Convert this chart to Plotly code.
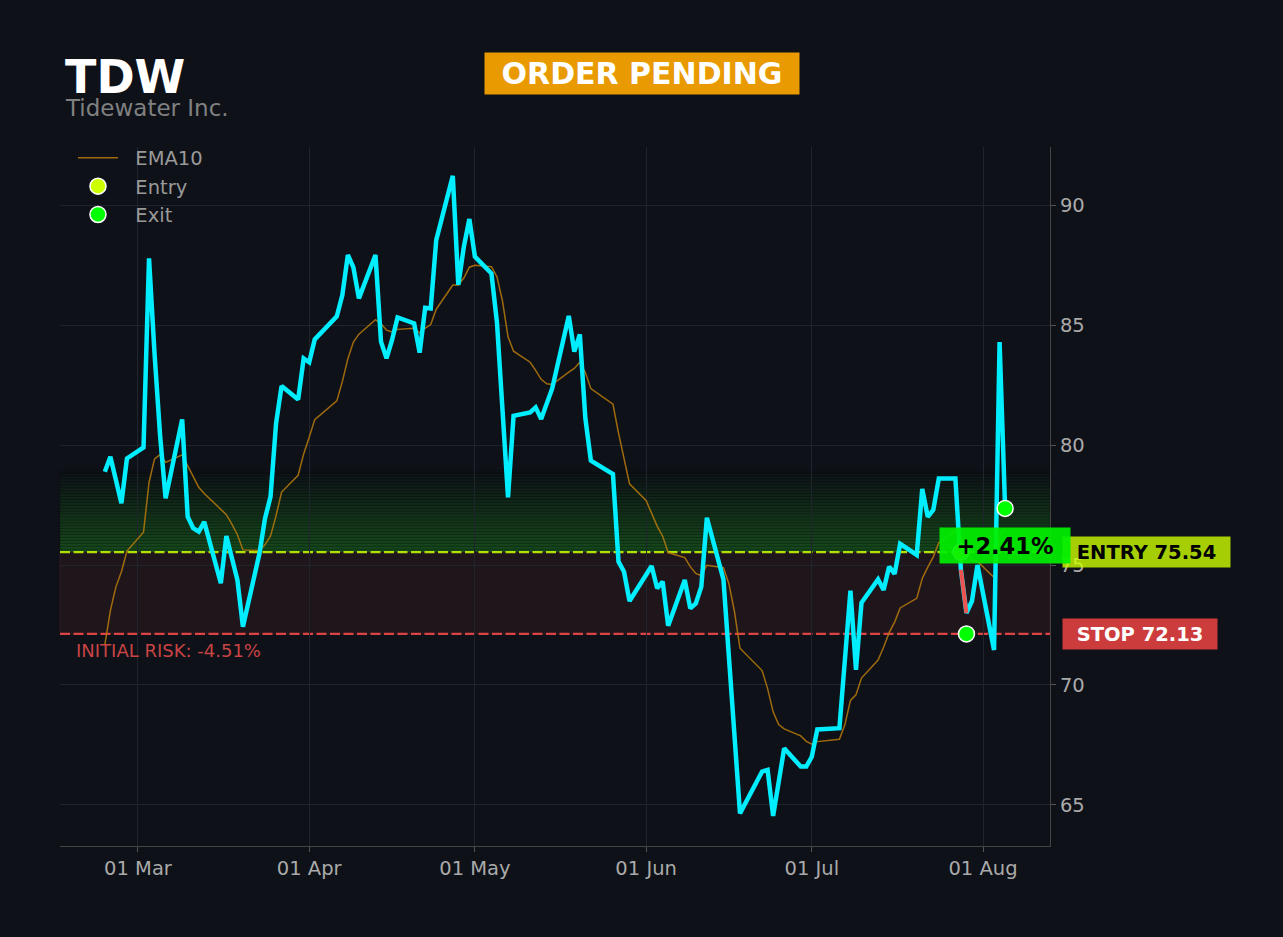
import pandas as pd
import plotly.graph_objects as go

ticker = "TDW"
company = "Tidewater Inc."
status = "ORDER PENDING"

entry_price = 75.54
stop_price = 72.13
gain_text = "+2.41%"
risk_text = "INITIAL RISK: -4.51%"

# closing prices (turning points only)
price_dates = [
    "2026-02-23", "2026-02-24", "2026-02-26", "2026-02-27",
    "2026-03-02", "2026-03-03", "2026-03-04", "2026-03-05", "2026-03-06",
    "2026-03-09", "2026-03-10", "2026-03-11", "2026-03-12", "2026-03-13",
    "2026-03-16", "2026-03-17", "2026-03-19", "2026-03-20",
    "2026-03-23", "2026-03-24", "2026-03-25", "2026-03-26", "2026-03-27",
    "2026-03-30", "2026-03-31", "2026-04-01", "2026-04-02",
    "2026-04-06", "2026-04-07", "2026-04-08", "2026-04-09", "2026-04-10",
    "2026-04-13", "2026-04-14", "2026-04-15", "2026-04-16", "2026-04-17",
    "2026-04-20", "2026-04-21", "2026-04-22", "2026-04-23", "2026-04-24",
    "2026-04-27", "2026-04-28", "2026-04-29", "2026-04-30", "2026-05-01",
    "2026-05-04", "2026-05-05", "2026-05-07", "2026-05-08",
    "2026-05-11", "2026-05-12", "2026-05-13", "2026-05-15",
    "2026-05-18", "2026-05-19", "2026-05-20", "2026-05-21", "2026-05-22",
    "2026-05-26", "2026-05-27", "2026-05-28", "2026-05-29",
    "2026-06-02", "2026-06-03", "2026-06-04", "2026-06-05",
    "2026-06-08", "2026-06-09", "2026-06-10", "2026-06-11", "2026-06-12",
    "2026-06-15", "2026-06-18",
    "2026-06-22", "2026-06-23", "2026-06-24", "2026-06-26",
    "2026-06-29", "2026-06-30", "2026-07-01", "2026-07-02",
    "2026-07-06", "2026-07-08", "2026-07-09", "2026-07-10",
    "2026-07-13", "2026-07-14", "2026-07-15", "2026-07-16", "2026-07-17",
    "2026-07-20", "2026-07-21", "2026-07-22", "2026-07-23", "2026-07-24",
    "2026-07-27", "2026-07-28", "2026-07-29", "2026-07-30", "2026-07-31",
    "2026-08-03", "2026-08-04", "2026-08-05",
]
price_close = [
    78.89, 79.51, 77.57, 79.44,
    79.90, 87.78, 83.80, 80.40, 77.78,
    81.07, 77.01, 76.53, 76.39, 76.80,
    74.24, 76.21, 74.38, 72.43,
    75.49, 76.94, 77.85, 80.90, 82.46,
    81.90, 83.61, 83.45, 84.40,
    85.36, 86.25, 87.92, 87.40, 86.11,
    87.92, 84.31, 83.61, 84.38, 85.32,
    85.07, 83.85, 85.72, 85.69, 88.54,
    91.22, 86.67, 88.26, 89.42, 87.85,
    87.15, 85.10, 77.82, 81.22,
    81.36, 81.57, 81.08, 82.36,
    85.38, 83.89, 84.61, 81.11, 79.35,
    78.79, 75.14, 74.72, 73.50,
    74.96, 74.03, 74.31, 72.47,
    74.38, 73.19, 73.40, 74.10, 76.97,
    74.40, 64.65,
    66.39, 66.46, 64.54, 67.36,
    66.60, 66.60, 67.01, 68.15,
    68.20, 73.93, 70.63, 73.43,
    74.40, 73.96, 74.93, 74.63, 75.88,
    75.42, 78.17, 77.01, 77.30, 78.61,
    78.61, 74.80, 73.00, 73.50, 75.00,
    71.46, 84.29, 77.36,
]

# EMA10, one value per trading day (weekly rows)
holidays = ["2026-04-03", "2026-05-25", "2026-06-19", "2026-07-03"]
ema_dates = pd.bdate_range("2026-02-23", "2026-08-05", freq="C", holidays=holidays)
ema10 = [
    71.67, 73.10, 74.09, 74.72, 75.58,
    76.37, 78.44, 79.42, 79.60, 79.28,
    79.59, 79.12, 78.65, 78.24, 77.98,
    77.30, 77.10, 76.70, 76.26, 75.63,
    75.60, 75.84, 76.21, 77.06, 78.04,
    78.74, 79.63, 80.32, 81.06,
    81.84, 82.64, 83.60, 84.29, 84.62,
    85.22, 85.05, 84.79, 84.71, 84.82,
    84.87, 84.68, 84.87, 85.02, 85.66,
    86.67, 86.67, 86.96, 87.41, 87.49,
    87.43, 87.01, 86.00, 84.51, 83.91,
    83.45, 83.11, 82.74, 82.55, 82.52,
    83.04, 83.19, 83.45, 83.02, 82.35,
    81.70, 80.51, 79.46, 78.38,
    77.69, 77.19, 76.62, 76.20, 75.52,
    75.31, 74.93, 74.65, 74.55, 74.99,
    74.89, 74.21, 73.06, 71.53,
    70.60, 69.85, 68.88, 68.35, 68.17,
    67.88, 67.65, 67.53, 67.64,
    67.74, 68.35, 69.36, 69.59, 70.29,
    71.04, 71.57, 72.18, 72.62, 73.21,
    73.61, 74.44, 74.91, 75.34, 75.93,
    76.42, 76.13, 75.56, 75.19, 75.15,
    74.48, 76.26, 76.46,
]

# trade markers
entry_dates = ["2026-07-28"]
entry_values = [75.54]
exit_dates = ["2026-07-29", "2026-08-05"]
exit_values = [72.13, 77.36]
loss_dates = ["2026-07-28", "2026-07-29"]
loss_values = [74.80, 73.00]

bg = "#0e1118"
font = "DejaVu Sans"
pad = "&nbsp;&nbsp;"  # legend text sits a bit further from the symbols

fig = go.Figure()

fig.add_trace(go.Scatter(x=ema_dates, y=ema10, mode="lines", name=pad + "EMA10",
                         line=dict(color="rgba(184,122,12,0.85)", width=1.5)))
fig.add_trace(go.Scatter(x=price_dates, y=price_close, mode="lines", name="Price",
                         line=dict(color="#00eeff", width=4.5), showlegend=False))
fig.add_trace(go.Scatter(x=loss_dates, y=loss_values, mode="lines", showlegend=False,
                         line=dict(color="#ef5350", width=4)))
fig.add_trace(go.Scatter(x=entry_dates, y=entry_values, mode="markers", name=pad + "Entry",
                         marker=dict(color="#ccff00", size=16, line=dict(color="white", width=1.5))))
fig.add_trace(go.Scatter(x=exit_dates, y=exit_values, mode="markers", name=pad + "Exit",
                         marker=dict(color="#00ff00", size=16, line=dict(color="white", width=1.5))))

# risk zone between stop and entry
fig.add_shape(type="rect", xref="paper", x0=0, x1=1, y0=stop_price, y1=entry_price,
              fillcolor="rgba(239,83,80,0.08)", line=dict(color="rgba(239,83,80,0.12)", width=1),
              layer="below")

# green gradient above entry (one risk unit tall)
target = entry_price + (entry_price - stop_price)
n_bands = 28
step = (target - entry_price) / n_bands
for i in range(n_bands):
    a = 0.46 * (1 - i / n_bands)
    fig.add_shape(type="rect", xref="paper", x0=0, x1=1,
                  y0=entry_price + i * step, y1=entry_price + (i + 1) * step,
                  fillcolor="rgba(34,139,34,%.3f)" % a,
                  line=dict(color="rgba(0,0,0,0.28)", width=0.6), layer="below")

fig.add_hline(y=entry_price, line=dict(color="rgba(204,255,0,0.85)", width=2.2, dash="10px,3.5px"), layer="below")
fig.add_hline(y=stop_price, line=dict(color="rgba(239,72,72,0.9)", width=2.2, dash="10px,3.5px"), layer="below")

# price labels on the right
fig.add_annotation(text="<b>ENTRY %.2f</b>" % entry_price, xref="paper", x=1.0121, xanchor="left",
                   y=entry_price, yanchor="middle", showarrow=False, bgcolor="rgba(204,255,0,0.8)",
                   width=165, height=28, borderpad=1, font=dict(family=font, size=19.5, color="black"))
fig.add_annotation(text="<b>STOP %.2f</b>" % stop_price, xref="paper", x=1.0121, xanchor="left",
                   y=stop_price, yanchor="middle", showarrow=False, bgcolor="rgba(239,68,68,0.85)",
                   width=152, height=28, borderpad=1, font=dict(family=font, size=19.5, color="white"))
fig.add_annotation(text=risk_text, xref="paper", x=0.014, xanchor="left", y=stop_price, yshift=-17,
                   yanchor="middle", showarrow=False, font=dict(family=font, size=18, color="#c94444"))
fig.add_annotation(text="<b>%s</b>" % gain_text, x="2026-08-05", y=75.83, showarrow=False,
                   bgcolor="rgba(0,240,0,0.92)", width=128, height=33, borderpad=1,
                   font=dict(family=font, size=22.5, color="black"))

# header
fig.add_annotation(text="<b>%s</b>" % ticker, xref="paper", yref="paper", x=0.003, y=1.1,
                   xanchor="left", yanchor="middle", showarrow=False,
                   font=dict(family=font, size=46, color="white"))
fig.add_annotation(text=company, xref="paper", yref="paper", x=0.003, y=1.056,
                   xanchor="left", yanchor="middle", showarrow=False,
                   font=dict(family=font, size=23, color="#808080"))
fig.add_annotation(text="<b>%s</b>" % status, xref="paper", yref="paper", x=0.588, y=1.1052,
                   xanchor="center", yanchor="middle", showarrow=False, bgcolor="#e89a00",
                   width=312, height=39, borderpad=1, font=dict(family=font, size=30, color="white"))

fig.update_layout(
    width=1283, height=937,
    paper_bgcolor=bg, plot_bgcolor=bg,
    margin=dict(l=60, r=233, t=147, b=91),
    font=dict(family=font, size=19.5, color="#aaaaaa"),
    legend=dict(x=0.0131, y=1.012, xanchor="left", yanchor="top", bgcolor="rgba(0,0,0,0)",
                itemwidth=40, font=dict(size=19.5, color="#999999")),
    xaxis=dict(range=["2026-02-14 21:07", "2026-08-13 03:07"], tickformat="%d %b",
               dtick="M1", tick0="2026-03-01", showgrid=True, gridcolor="#20242c",
               showline=True, linecolor="#444444", ticks="outside", ticklen=5, tickcolor="#555555",
               zeroline=False),
    yaxis=dict(range=[63.29, 92.42], side="right", dtick=5, showgrid=True, gridcolor="#20242c",
               showline=True, linecolor="#444444", ticks="outside", ticklen=5, tickcolor="#555555",
               zeroline=False),
)

# no page margin so the figure sits at the window corner; no toolbar
fig.write_html("out.html", config={"displayModeBar": False},
               post_script="document.body.style.margin='0px';"
                           "document.body.style.backgroundColor='%s';" % bg)
